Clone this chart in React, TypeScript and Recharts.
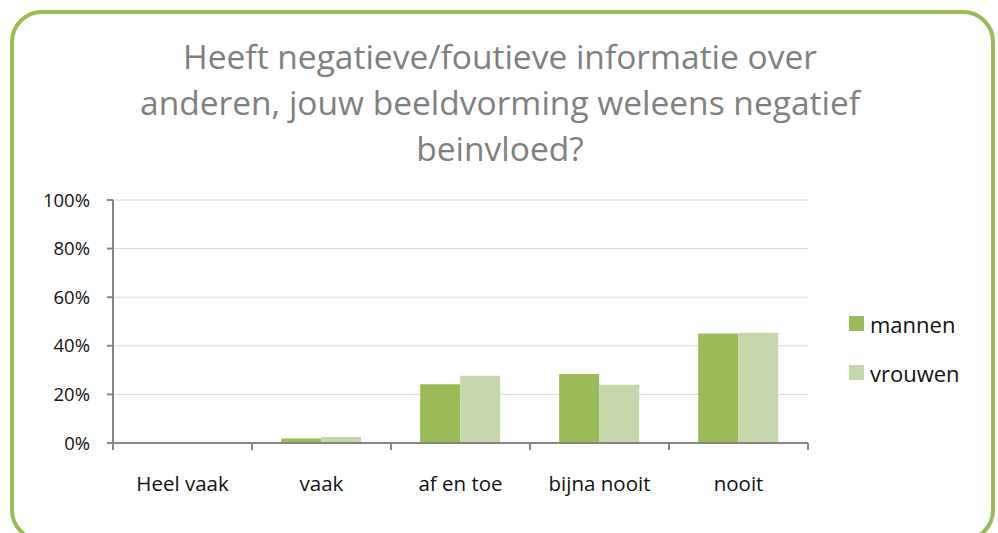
import React from 'react';
import { BarChart, Bar, XAxis, YAxis, CartesianGrid, Legend } from 'recharts';

const categories = ['Heel vaak', 'vaak', 'af en toe', 'bijna nooit', 'nooit'];
const mannen = [0, 1.9, 24.2, 28.4, 45.1];
const vrouwen = [0, 2.5, 27.7, 24.0, 45.4];
const yTicks = [0, 20, 40, 60, 80, 100];
const seriesNames = ['mannen', 'vrouwen'];
const colors = ['#9BBB59', '#C6D6AB'];

const data = categories.map((c, i) => ({ name: c, mannen: mannen[i], vrouwen: vrouwen[i] }));

const FONT = '"Open Sans", sans-serif';

const XTick = (props: any) => {
  const { x, y, payload, index, visibleTicksCount } = props;
  const half = payload && payload.offset ? payload.offset : 69.5;
  return (
    <g>
      <line x1={x - half} x2={x - half} y1={y - 8} y2={y - 1} stroke="#868686" strokeWidth={2} />
      {index === visibleTicksCount - 1 && (
        <line x1={x + half} x2={x + half} y1={y - 8} y2={y - 1} stroke="#868686" strokeWidth={2} />
      )}
      <text x={x} y={y + 40} textAnchor="middle" fill="#111" fontSize={20.5} fontFamily={FONT}>
        {payload.value}
      </text>
    </g>
  );
};

const LegendContent = () => (
  <div style={{ fontFamily: FONT, fontSize: 22, color: '#111' }}>
    {seriesNames.map((n, i) => (
      <div key={n} style={{ display: 'flex', alignItems: 'center', height: 49 }}>
        <span style={{ display: 'inline-block', width: 15, height: 15, background: colors[i], marginRight: 6 }} />
        <span>{n}</span>
      </div>
    ))}
  </div>
);

export default function App() {
  return (
    <div style={{ position: 'absolute', left: 0, top: 0, width: 998, height: 533, background: '#fff', overflow: 'hidden' }}>
      <div
        style={{
          position: 'absolute',
          left: 10,
          top: 10,
          width: 985,
          height: 532,
          boxSizing: 'border-box',
          border: '4px solid #9BBB59',
          borderRadius: 32,
        }}
      />
      <div
        style={{
          position: 'absolute',
          left: 0,
          top: 33,
          width: 1000,
          textAlign: 'center',
          fontFamily: FONT,
          fontSize: 33.5,
          lineHeight: '46px',
          color: '#7F7F7F',
        }}
      >
        Heeft negatieve/foutieve informatie over
        <br />
        anderen, jouw beeldvorming weleens negatief
        <br />
        beinvloed?
      </div>
      <div style={{ position: 'absolute', left: 0, top: 0 }}>
        <BarChart
          width={998}
          height={533}
          data={data}
          margin={{ top: 200, right: 190, bottom: 60, left: 53 }}
          barCategoryGap="21%"
          barGap={0}
        >
          <CartesianGrid vertical={false} stroke="#D9D9D9" strokeWidth={1} />
          <XAxis
            dataKey="name"
            axisLine={{ stroke: '#868686', strokeWidth: 2 }}
            tickLine={false}
            tick={<XTick />}
            interval={0}
            height={30}
          />
          <YAxis
            width={60}
            domain={[0, 100]}
            ticks={yTicks}
            tickFormatter={(v: number) => `${v}%`}
            axisLine={{ stroke: '#868686', strokeWidth: 2 }}
            tickLine={{ stroke: '#868686', strokeWidth: 2 }}
            tickSize={6}
            tickMargin={17}
            tick={{ fill: '#111', fontSize: 18.5, fontFamily: FONT }}
          />
          <Legend
            layout="horizontal"
            verticalAlign="middle"
            align="center"
            content={<LegendContent />}
            wrapperStyle={{ position: 'absolute', left: 849, top: 299, width: 140, height: 100 }}
          />
          <Bar dataKey="mannen" name="mannen" fill={colors[0]} isAnimationActive={false} />
          <Bar dataKey="vrouwen" name="vrouwen" fill={colors[1]} isAnimationActive={false} />
        </BarChart>
      </div>
    </div>
  );
}
